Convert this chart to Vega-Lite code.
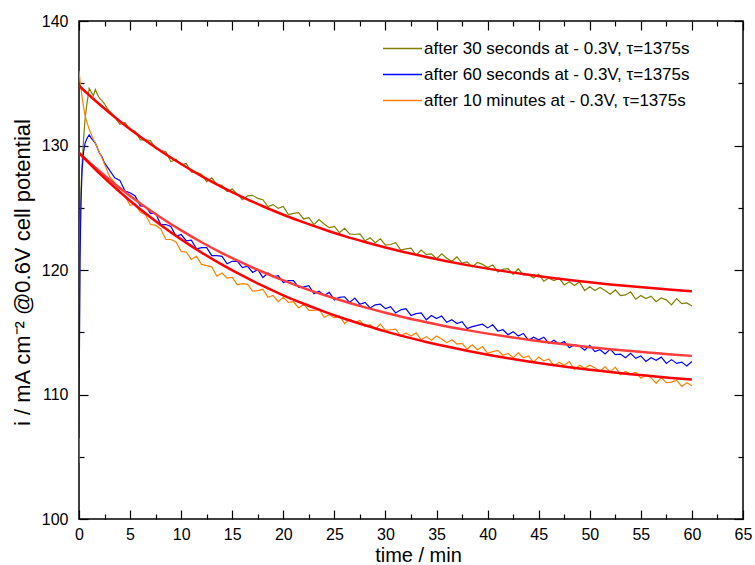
{
  "$schema": "https://vega.github.io/schema/vega-lite/v6.json",
  "width": 664,
  "height": 498,
  "autosize": {"type": "none"},
  "padding": {"left": 79, "top": 21, "right": 12, "bottom": 46},
  "background": "white",
  "config": {
    "view": {"stroke": "black", "strokeWidth": 1.5},
    "font": "Liberation Sans"
  },
  "datasets": {
    "meas": [
      {"t":0,"a":104.5,"b":106.5,"c":136.0},
      {"t":0.05,"a":116.0,"b":115.0,"c":135.6},
      {"t":0.1,"a":122.5,"b":121.0,"c":135.2},
      {"t":0.2,"a":126.5,"b":125.5,"c":134.5},
      {"t":0.3,"a":128.5,"b":128.0,"c":133.9},
      {"t":0.45,"a":130.5,"b":129.5,"c":133.1},
      {"t":0.6,"a":132.2,"b":130.2,"c":132.4},
      {"t":0.8,"a":133.5,"b":130.6,"c":131.8},
      {"t":1.0,"a":134.6,"b":130.85,"c":131.3},
      {"t":1.2,"a":134.3,"b":130.6,"c":130.9},
      {"t":1.4,"a":134.0,"b":130.4,"c":130.5},
      {"t":1.6,"a":134.5,"b":130.2,"c":130.2},
      {"t":1.8,"a":134.1,"b":129.8,"c":129.8},
      {"t":2.0,"a":133.8,"b":129.4,"c":129.45},
      {"t":2.25,"a":133.6,"b":129.1,"c":129.0},
      {"t":2.5,"a":133.35,"b":128.6,"c":128.5},
      {"t":2.75,"a":133.0,"b":128.3,"c":128.0},
      {"t":3.0,"a":132.75,"b":128.0,"c":127.5},
      {"t":3.5,"a":132.3,"b":127.4,"c":127.0},
      {"t":4,"a":131.7,"b":127.2,"c":126.2},
      {"t":4.5,"a":131.85,"b":126.35,"c":125.95},
      {"t":5,"a":131.25,"b":126.2,"c":125.2},
      {"t":5.5,"a":131.15,"b":125.95,"c":125.3},
      {"t":6,"a":130.45,"b":125.15,"c":124.65},
      {"t":6.5,"a":130.45,"b":125.1,"c":124.45},
      {"t":7,"a":130.4,"b":124.55,"c":123.65},
      {"t":7.5,"a":129.75,"b":124.55,"c":123.6},
      {"t":8,"a":129.6,"b":123.65,"c":123.3},
      {"t":8.5,"a":129.5,"b":123.65,"c":122.45},
      {"t":9,"a":128.7,"b":123.5,"c":122.45},
      {"t":9.5,"a":128.9,"b":122.7,"c":122.25},
      {"t":10,"a":128.45,"b":122.85,"c":121.5},
      {"t":10.5,"a":128.55,"b":122.35,"c":121.45},
      {"t":11,"a":127.85,"b":122.4,"c":120.85},
      {"t":11.5,"a":127.85,"b":121.7,"c":121.1},
      {"t":12,"a":127.7,"b":121.8,"c":120.45},
      {"t":12.5,"a":127.1,"b":121.8,"c":120.35},
      {"t":13,"a":127.4,"b":121.15,"c":120.25},
      {"t":13.5,"a":126.85,"b":121.15,"c":119.5},
      {"t":14,"a":126.8,"b":121.1,"c":119.75},
      {"t":14.5,"a":126.3,"b":120.5,"c":119.35},
      {"t":15,"a":126.5,"b":120.7,"c":119.4},
      {"t":15.5,"a":126.1,"b":120.7,"c":118.8},
      {"t":16,"a":125.65,"b":120.2,"c":118.9},
      {"t":16.5,"a":125.95,"b":120.3,"c":118.85},
      {"t":17,"a":126.0,"b":119.8,"c":118.3},
      {"t":17.5,"a":125.75,"b":120.05,"c":118.35},
      {"t":18,"a":125.65,"b":119.4,"c":118.45},
      {"t":18.5,"a":125.1,"b":119.75,"c":117.8},
      {"t":19,"a":125.25,"b":119.45,"c":117.95},
      {"t":19.5,"a":124.95,"b":119.55,"c":117.45},
      {"t":20,"a":125.1,"b":119.0,"c":117.8},
      {"t":20.5,"a":124.45,"b":119.15,"c":117.4},
      {"t":21,"a":124.55,"b":119.15,"c":117.45},
      {"t":21.5,"a":124.6,"b":118.6,"c":116.95},
      {"t":22,"a":124.1,"b":118.65,"c":117.25},
      {"t":22.5,"a":124.2,"b":118.75,"c":116.75},
      {"t":23,"a":123.65,"b":118.1,"c":116.75},
      {"t":23.5,"a":124.05,"b":118.3,"c":116.85},
      {"t":24,"a":123.7,"b":117.95,"c":116.2},
      {"t":24.5,"a":123.4,"b":118.2,"c":116.4},
      {"t":25,"a":123.5,"b":117.6,"c":116.15},
      {"t":25.5,"a":123.0,"b":117.8,"c":116.3},
      {"t":26,"a":123.35,"b":117.85,"c":115.7},
      {"t":26.5,"a":122.9,"b":117.4,"c":116.05},
      {"t":27,"a":122.85,"b":117.75,"c":115.8},
      {"t":27.5,"a":122.9,"b":117.25,"c":115.95},
      {"t":28,"a":122.35,"b":117.4,"c":115.45},
      {"t":28.5,"a":122.6,"b":116.95,"c":115.6},
      {"t":29,"a":122.2,"b":117.2,"c":115.25},
      {"t":29.5,"a":122.5,"b":117.25,"c":115.65},
      {"t":30,"a":122.0,"b":116.9,"c":115.15},
      {"t":30.5,"a":122.05,"b":117.05,"c":115.2},
      {"t":31,"a":122.2,"b":116.55,"c":115.25},
      {"t":31.5,"a":121.6,"b":116.8,"c":114.7},
      {"t":32,"a":121.7,"b":116.9,"c":114.95},
      {"t":32.5,"a":121.75,"b":116.35,"c":114.7},
      {"t":33,"a":121.2,"b":116.5,"c":114.95},
      {"t":33.5,"a":121.6,"b":116.55,"c":114.4},
      {"t":34,"a":121.25,"b":116.0,"c":114.65},
      {"t":34.5,"a":121.3,"b":116.35,"c":114.35},
      {"t":35,"a":120.9,"b":116.1,"c":114.7},
      {"t":35.5,"a":121.3,"b":116.3,"c":114.45},
      {"t":36,"a":120.95,"b":115.8,"c":114.15},
      {"t":36.5,"a":120.7,"b":116.0,"c":114.4},
      {"t":37,"a":121.05,"b":115.7,"c":114.05},
      {"t":37.5,"a":120.55,"b":115.85,"c":114.1},
      {"t":38,"a":120.65,"b":115.3,"c":113.65},
      {"t":38.5,"a":120.25,"b":115.45,"c":114.0},
      {"t":39,"a":120.6,"b":115.55,"c":113.6},
      {"t":39.5,"a":120.45,"b":115.65,"c":113.85},
      {"t":40,"a":120.2,"b":115.35,"c":113.3},
      {"t":40.5,"a":120.4,"b":115.6,"c":113.45},
      {"t":41,"a":119.85,"b":115.1,"c":113.55},
      {"t":41.5,"a":120.05,"b":115.2,"c":113.15},
      {"t":42,"a":120.1,"b":114.8,"c":113.3},
      {"t":42.5,"a":119.65,"b":115.05,"c":112.95},
      {"t":43,"a":120.1,"b":114.7,"c":113.35},
      {"t":43.5,"a":119.6,"b":114.9,"c":112.95},
      {"t":44,"a":119.65,"b":114.35,"c":113.1},
      {"t":44.5,"a":119.35,"b":114.6,"c":112.6},
      {"t":45,"a":119.65,"b":114.4,"c":113.0},
      {"t":45.5,"a":119.1,"b":114.6,"c":112.7},
      {"t":46,"a":119.35,"b":114.1,"c":112.85},
      {"t":46.5,"a":119.15,"b":114.35,"c":112.3},
      {"t":47,"a":119.35,"b":114.05,"c":112.6},
      {"t":47.5,"a":118.8,"b":114.25,"c":112.35},
      {"t":48,"a":119.05,"b":113.75,"c":112.65},
      {"t":48.5,"a":118.75,"b":114.0,"c":112.0},
      {"t":49,"a":119.05,"b":113.9,"c":112.35},
      {"t":49.5,"a":118.35,"b":113.55,"c":112.1},
      {"t":50,"a":118.65,"b":113.95,"c":112.35},
      {"t":50.5,"a":118.35,"b":113.45,"c":112.15},
      {"t":51,"a":118.6,"b":113.6,"c":111.85},
      {"t":51.5,"a":118.35,"b":113.25,"c":112.25},
      {"t":52,"a":118.05,"b":113.65,"c":111.8},
      {"t":52.5,"a":118.4,"b":113.2,"c":112.2},
      {"t":53,"a":117.95,"b":113.25,"c":111.6},
      {"t":53.5,"a":118.0,"b":112.95,"c":111.85},
      {"t":54,"a":118.25,"b":113.3,"c":111.65},
      {"t":54.5,"a":117.65,"b":112.9,"c":111.8},
      {"t":55,"a":117.95,"b":113.1,"c":111.3},
      {"t":55.5,"a":117.7,"b":112.65,"c":111.55},
      {"t":56,"a":117.9,"b":112.95,"c":111.35},
      {"t":56.5,"a":117.45,"b":112.75,"c":110.9},
      {"t":57,"a":117.75,"b":113.0,"c":111.35},
      {"t":57.5,"a":117.6,"b":112.5,"c":110.95},
      {"t":58,"a":117.2,"b":112.8,"c":111.0},
      {"t":58.5,"a":117.7,"b":112.5,"c":111.15},
      {"t":59,"a":117.3,"b":112.6,"c":110.65},
      {"t":59.5,"a":117.35,"b":112.3,"c":110.95},
      {"t":60,"a":117.1,"b":112.65,"c":110.7}
    ],
    "fit": [
      {"t":0,"fa":134.80,"fb":129.40,"fc":129.40},
      {"t":2,"fa":133.31,"fb":127.93,"fc":127.76},
      {"t":4,"fa":131.95,"fb":126.58,"fc":126.26},
      {"t":6,"fa":130.70,"fb":125.35,"fc":124.88},
      {"t":8,"fa":129.56,"fb":124.22,"fc":123.62},
      {"t":10,"fa":128.51,"fb":123.18,"fc":122.46},
      {"t":12,"fa":127.54,"fb":122.23,"fc":121.40},
      {"t":14,"fa":126.66,"fb":121.36,"fc":120.43},
      {"t":16,"fa":125.86,"fb":120.57,"fc":119.54},
      {"t":18,"fa":125.12,"fb":119.84,"fc":118.72},
      {"t":20,"fa":124.44,"fb":119.17,"fc":117.97},
      {"t":22,"fa":123.82,"fb":118.55,"fc":117.29},
      {"t":24,"fa":123.25,"fb":117.99,"fc":116.66},
      {"t":26,"fa":122.72,"fb":117.47,"fc":116.08},
      {"t":28,"fa":122.25,"fb":117.00,"fc":115.56},
      {"t":30,"fa":121.81,"fb":116.57,"fc":115.07},
      {"t":32,"fa":121.41,"fb":116.17,"fc":114.63},
      {"t":34,"fa":121.04,"fb":115.81,"fc":114.22},
      {"t":36,"fa":120.70,"fb":115.47,"fc":113.85},
      {"t":38,"fa":120.39,"fb":115.17,"fc":113.51},
      {"t":40,"fa":120.11,"fb":114.89,"fc":113.20},
      {"t":42,"fa":119.85,"fb":114.63,"fc":112.91},
      {"t":44,"fa":119.61,"fb":114.40,"fc":112.65},
      {"t":46,"fa":119.39,"fb":114.18,"fc":112.41},
      {"t":48,"fa":119.19,"fb":113.99,"fc":112.19},
      {"t":50,"fa":119.01,"fb":113.80,"fc":111.99},
      {"t":52,"fa":118.84,"fb":113.64,"fc":111.80},
      {"t":54,"fa":118.69,"fb":113.49,"fc":111.63},
      {"t":56,"fa":118.55,"fb":113.35,"fc":111.48},
      {"t":58,"fa":118.42,"fb":113.22,"fc":111.33},
      {"t":60,"fa":118.30,"fb":113.10,"fc":111.20}
    ]
  },
  "resolve": {"axis": {"x": "independent", "y": "independent"}},
  "layer": [
    {
      "data": {"name": "meas"},
      "transform": [{"fold": ["a", "b", "c"], "as": ["s", "v"]}],
      "mark": {"type": "line", "strokeWidth": 1.2, "clip": true},
      "encoding": {
        "x": {"field": "t", "type": "quantitative",
          "scale": {"domain": [0, 65], "nice": false, "zero": false},
          "axis": {"orient": "bottom", "values": [0,5,10,15,20,25,30,35,40,45,50,55,60,65],
            "tickSize": -9, "tickWidth": 1.2, "tickColor": "black", "domain": false, "grid": false,
            "labelFont": "Liberation Sans", "labelFontSize": 16, "labelColor": "black", "labelPadding": 16,
            "labelFlush": false, "labelOverlap": false,
            "title": "time / min", "titleFont": "Liberation Sans", "titleFontSize": 20, "titleFontWeight": "normal",
            "titleColor": "black", "titleX": 339, "titleY": 42, "titleBaseline": "alphabetic", "titleAlign": "center"}},
        "y": {"field": "v", "type": "quantitative",
          "scale": {"domain": [100, 140], "nice": false, "zero": false},
          "axis": {"orient": "left", "values": [100,110,120,130,140],
            "tickSize": -9, "tickWidth": 1.2, "tickColor": "black", "domain": false, "grid": false,
            "labelFont": "Liberation Sans", "labelFontSize": 16, "labelColor": "black", "labelPadding": 20,
            "labelFlush": false, "labelOverlap": false,
            "title": "i / mA cm⁻² @0.6V cell potential", "titleFont": "Liberation Sans", "titleFontSize": 22,
            "titleFontWeight": "normal", "titleColor": "black", "titleX": -50, "titleY": 251,
            "titleAngle": 270, "titleBaseline": "alphabetic", "titleAlign": "center"}},
        "color": {"field": "s", "type": "nominal",
          "scale": {"domain": ["a", "b", "c"], "range": ["#808000", "#0000ff", "#ff8000"]},
          "legend": {"orient": "none", "legendX": 315, "legendY": 19, "title": null, "padding": 0,
            "labelFont": "Liberation Sans", "labelFontSize": 17, "labelColor": "black", "labelLimit": 500,
            "symbolType": "M-3,0H3", "symbolSize": 169, "symbolStrokeWidth": 1.5, "rowPadding": 8, "labelOffset": 13,
            "labelExpr": "datum.label == 'a' ? 'after 30 seconds at - 0.3V, τ=1375s' : datum.label == 'b' ? 'after 60 seconds at - 0.3V, τ=1375s' : 'after 10 minutes at - 0.3V, τ=1375s'"}}
      }
    },
    {
      "data": {"name": "fit"},
      "mark": {"type": "line", "strokeWidth": 2.5, "color": "#ff0000", "interpolate": "monotone", "clip": true},
      "encoding": {
        "x": {"field": "t", "type": "quantitative",
          "scale": {"domain": [0, 65], "nice": false, "zero": false},
          "axis": {"orient": "top", "values": [0,5,10,15,20,25,30,35,40,45,50,55,60,65],
            "tickSize": -9, "tickWidth": 1.2, "tickColor": "black", "domain": false, "grid": false,
            "labels": false, "title": null}},
        "y": {"field": "fa", "type": "quantitative",
          "scale": {"domain": [100, 140], "nice": false, "zero": false},
          "axis": {"orient": "right", "values": [100,110,120,130,140],
            "tickSize": -9, "tickWidth": 1.2, "tickColor": "black", "domain": false, "grid": false,
            "labels": false, "title": null}}
      }
    },
    {
      "data": {"name": "fit"},
      "mark": {"type": "line", "strokeWidth": 2.5, "color": "#ff3c3c", "interpolate": "monotone", "clip": true},
      "encoding": {
        "x": {"field": "t", "type": "quantitative",
          "scale": {"domain": [0, 65], "nice": false, "zero": false},
          "axis": {"orient": "bottom", "values": [2.5,7.5,12.5,17.5,22.5,27.5,32.5,37.5,42.5,47.5,52.5,57.5,62.5],
            "tickSize": -5, "tickWidth": 1.2, "tickColor": "black", "domain": false, "grid": false,
            "labels": false, "title": null}},
        "y": {"field": "fb", "type": "quantitative",
          "scale": {"domain": [100, 140], "nice": false, "zero": false},
          "axis": {"orient": "left", "values": [105,115,125,135],
            "tickSize": -5, "tickWidth": 1.2, "tickColor": "black", "domain": false, "grid": false,
            "labels": false, "title": null}}
      }
    },
    {
      "data": {"name": "fit"},
      "mark": {"type": "line", "strokeWidth": 2.5, "color": "#ff0000", "interpolate": "monotone", "clip": true},
      "encoding": {
        "x": {"field": "t", "type": "quantitative",
          "scale": {"domain": [0, 65], "nice": false, "zero": false},
          "axis": {"orient": "top", "values": [2.5,7.5,12.5,17.5,22.5,27.5,32.5,37.5,42.5,47.5,52.5,57.5,62.5],
            "tickSize": -5, "tickWidth": 1.2, "tickColor": "black", "domain": false, "grid": false,
            "labels": false, "title": null}},
        "y": {"field": "fc", "type": "quantitative",
          "scale": {"domain": [100, 140], "nice": false, "zero": false},
          "axis": {"orient": "right", "values": [105,115,125,135],
            "tickSize": -5, "tickWidth": 1.2, "tickColor": "black", "domain": false, "grid": false,
            "labels": false, "title": null}}
      }
    }
  ]
}
